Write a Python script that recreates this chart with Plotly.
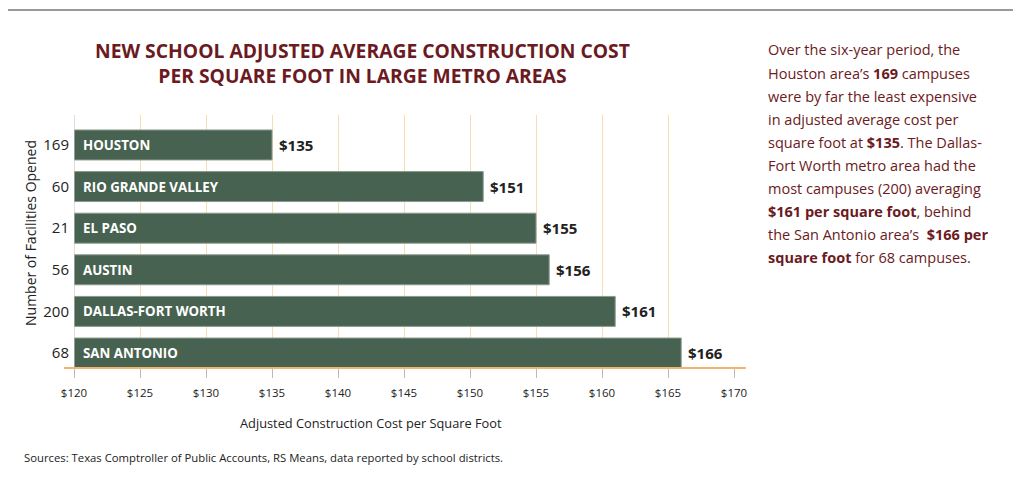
import plotly.graph_objects as go

regions = ["HOUSTON", "RIO GRANDE VALLEY", "EL PASO", "AUSTIN", "DALLAS-FORT WORTH", "SAN ANTONIO"]
costs = [135, 151, 155, 156, 161, 166]
facilities = ["169", "60", "21", "56", "200", "68"]
x_ticks = [120, 125, 130, 135, 140, 145, 150, 155, 160, 165, 170]
x_tick_labels = ["$" + str(v) for v in x_ticks]

title_text = "NEW SCHOOL ADJUSTED AVERAGE CONSTRUCTION COST<br>PER SQUARE FOOT IN LARGE METRO AREAS"
side_lines = ["Over the six-year period, the",
              "Houston area’s <b>169</b> campuses",
              "were by far the least expensive",
              "in adjusted average cost per",
              "square foot at <b>$135</b>. The Dallas-",
              "Fort Worth metro area had the",
              "most campuses (200) averaging",
              "<b>$161 per square foot</b>, behind",
              "the San Antonio area’s  <b>$166 per</b>",
              "<b>square foot</b> for 68 campuses."]
source_text = "Sources: Texas Comptroller of Public Accounts, RS Means, data reported by school districts."

MAROON = "#6b1a22"
GREEN = "#476250"
FONT = "Open Sans"

order = list(reversed(regions))

OFF = 8  # browser body margin
W, H = 1024 - OFF, 481 - OFF
# page pixel coordinates of the plot area
PL, PR, PT, PB = 74, 734, 115, 368
L, T = PL - OFF, PT - OFF
R = W - (PR - OFF)
B = H - (PB - OFF)
pw, ph = PR - PL, PB - PT


def px2paper(px, py):
    return (px - PL) / pw, (PB - py) / ph


fig = go.Figure()
fig.add_trace(go.Bar(
    x=[c - 120 for c in costs], y=regions, base=120, orientation="h",
    marker=dict(color=GREEN, line=dict(color="#8a9a8d", width=1)),
    hoverinfo="skip",
))

annotations = []
for r, c in zip(regions, costs):
    annotations.append(dict(x=120, y=r, xref="x", yref="y", text="<b>" + r + "</b>",
                            showarrow=False, xanchor="left", xshift=7,
                            font=dict(family=FONT, size=13.3, color="white")))
    annotations.append(dict(x=c, y=r, xref="x", yref="y", text="<b>$" + str(c) + "</b>",
                            showarrow=False, xanchor="left", xshift=5,
                            font=dict(family=FONT, size=15, color="#222222")))

pixel_anns = [
    dict(x=362, y=63, text="<b>" + title_text + "</b>", xanchor="center", align="center",
         font=dict(family=FONT, size=19.3, color=MAROON)),
    dict(x=371, y=423, text="Adjusted Construction Cost per Square Foot", xanchor="center",
         font=dict(family=FONT, size=12.8, color="#222222")),
    dict(x=30, y=233, text="Number of Facilities Opened", textangle=-90, xanchor="center",
         font=dict(family=FONT, size=14, color="#222222")),
    dict(x=22, y=457, text=source_text, xanchor="left",
         font=dict(family=FONT, size=11.3, color="#222222")),
]
for i, line in enumerate(side_lines):
    pixel_anns.append(dict(x=766, y=50 + i * 23, text=line, xanchor="left", align="left",
                           font=dict(family=FONT, size=14.5, color=MAROON)))

for a in pixel_anns:
    a["x"], a["y"] = px2paper(a["x"], a["y"])
    a.update(xref="paper", yref="paper", showarrow=False, yanchor="middle")
    annotations.append(a)

x0a, _ = px2paper(5, 0)
x1a, _ = px2paper(1013, 0)
_, ytop = px2paper(0, 10)
x0b, _ = px2paper(64, 0)
x1b, _ = px2paper(746, 0)
shapes = [
    dict(type="line", xref="paper", yref="paper", x0=x0a, x1=x1a, y0=ytop, y1=ytop,
         line=dict(color="#999999", width=2)),
    dict(type="line", xref="paper", yref="paper", x0=x0b, x1=x1b, y0=0, y1=0,
         line=dict(color="#f4b46a", width=2)),
    dict(type="line", xref="x", yref="paper", x0=120, x1=120, y0=0, y1=1,
         line=dict(color="#bbbbbb", width=1)),
]

fig.update_layout(
    width=W, height=H,
    margin=dict(l=L, r=R, t=T, b=B, pad=0),
    paper_bgcolor="white", plot_bgcolor="white",
    showlegend=False,
    bargap=0.28,
    annotations=annotations,
    shapes=shapes,
    xaxis=dict(range=[120, 170], tickvals=x_ticks, ticktext=x_tick_labels,
               showgrid=True, gridcolor="#fadcb4", gridwidth=1, zeroline=False,
               ticks="outside", ticklen=9, tickcolor="#bbbbbb", showline=False,
               ticklabelstandoff=5,
               tickfont=dict(family=FONT, size=11.5, color="#222222")),
    yaxis=dict(type="category", categoryorder="array", categoryarray=order,
               tickvals=regions, ticktext=facilities, range=[-0.36, 5.72],
               showgrid=False, zeroline=False, showline=False, ticks="",
               ticklabelstandoff=4,
               tickfont=dict(family=FONT, size=15, color="#222222")),
)

fig.write_html("out.html")
